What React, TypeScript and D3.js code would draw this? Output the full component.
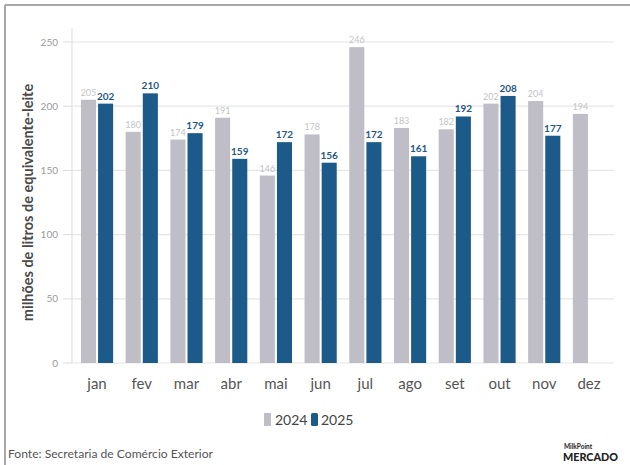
import React, { useEffect, useRef } from "react";
import * as d3 from "d3";

const months = ["jan", "fev", "mar", "abr", "mai", "jun", "jul", "ago", "set", "out", "nov", "dez"];
const series2024 = [205, 180, 174, 191, 146, 178, 246, 183, 182, 202, 204, 194];
const series2025: (number | null)[] = [202, 210, 179, 159, 172, 156, 172, 161, 192, 208, 177, null];
const yTicks = [0, 50, 100, 150, 200, 250];
const years = ["2024", "2025"];

const W = 630;
const H = 465;
const FONT = "Lato, 'Open Sans', sans-serif";
const GRAY = "#bfbec6";
const BLUE = "#1c5a8a";

export default function App() {
  const ref = useRef<SVGSVGElement>(null);

  useEffect(() => {
    const svg = d3.select(ref.current);
    svg.selectAll("*").remove();

    // frame
    svg.append("line").attr("x1", 5).attr("x2", W).attr("y1", 5).attr("y2", 5)
      .attr("stroke", "#a8a8a8").attr("stroke-width", 2);
    svg.append("line").attr("x1", 5).attr("x2", 5).attr("y1", 5).attr("y2", H)
      .attr("stroke", "#a8a8a8").attr("stroke-width", 2);

    const y = d3.scaleLinear().domain([0, 250]).range([363, 42]);
    const x0 = d3.scaleBand().domain(months).range([72, 614]).paddingInner(0.28).paddingOuter(0.2);
    const x1 = d3.scaleBand().domain(years).range([0, x0.bandwidth()]).paddingInner(0.12);

    const g = svg.append("g");

    g.selectAll("line.grid").data(yTicks).join("line")
      .attr("x1", 72).attr("x2", 614)
      .attr("y1", (d) => y(d)).attr("y2", (d) => y(d))
      .attr("stroke", "#e6e6e6").attr("stroke-width", 1.2);
    g.selectAll("line.tick").data(yTicks).join("line")
      .attr("x1", 63).attr("x2", 72)
      .attr("y1", (d) => y(d)).attr("y2", (d) => y(d))
      .attr("stroke", "#dddddd").attr("stroke-width", 1);
    g.append("line").attr("x1", 72).attr("x2", 72).attr("y1", 28).attr("y2", 363)
      .attr("stroke", "#e2e2e2").attr("stroke-width", 1.2);
    g.selectAll("text.ytick").data(yTicks).join("text")
      .attr("x", 58).attr("y", (d) => y(d)).attr("dy", "0.35em")
      .attr("text-anchor", "end").attr("font-family", FONT).attr("font-size", 10)
      .attr("fill", "#9a9a9a").text((d) => d);

    g.append("text")
      .attr("transform", `translate(33,${(y(0) + y(250)) / 2}) rotate(-90)`)
      .attr("text-anchor", "middle").attr("font-family", FONT).attr("font-size", 14.5)
      .attr("font-weight", 700).attr("fill", "#4a4a4a")
      .text("milhões de litros de equivalente-leite");

    g.selectAll("rect.b24").data(months).join("rect")
      .attr("x", (m) => (x0(m) as number) + (x1("2024") as number))
      .attr("width", x1.bandwidth())
      .attr("y", (_, i) => y(series2024[i]))
      .attr("height", (_, i) => y(0) - y(series2024[i]))
      .attr("fill", GRAY);
    g.selectAll("text.l24").data(months).join("text")
      .attr("x", (m) => (x0(m) as number) + (x1("2024") as number) + x1.bandwidth() / 2)
      .attr("y", (_, i) => y(series2024[i]) - 4)
      .attr("text-anchor", "middle").attr("font-family", FONT).attr("font-size", 9)
      .attr("fill", "#c4c4c8").text((_, i) => series2024[i]);

    const d25 = months.map((m, i) => ({ m, v: series2025[i] })).filter((d) => d.v != null) as { m: string; v: number }[];
    g.selectAll("rect.b25").data(d25).join("rect")
      .attr("x", (d) => (x0(d.m) as number) + (x1("2025") as number))
      .attr("width", x1.bandwidth())
      .attr("y", (d) => y(d.v))
      .attr("height", (d) => y(0) - y(d.v))
      .attr("fill", BLUE);
    g.selectAll("text.l25").data(d25).join("text")
      .attr("x", (d) => (x0(d.m) as number) + (x1("2025") as number) + x1.bandwidth() / 2)
      .attr("y", (d) => y(d.v) - 4)
      .attr("text-anchor", "middle").attr("font-family", FONT).attr("font-size", 10)
      .attr("font-weight", 700).attr("fill", "#1f5786").text((d) => d.v);

    g.selectAll("text.xl").data(months).join("text")
      .attr("x", (m) => (x0(m) as number) + x0.bandwidth() / 2)
      .attr("y", 389)
      .attr("text-anchor", "middle").attr("font-family", FONT).attr("font-size", 15)
      .attr("fill", "#555555").text((m) => m);

    const leg = svg.append("g").attr("transform", "translate(264,420)");
    leg.append("rect").attr("x", 0).attr("y", -7).attr("width", 7).attr("height", 13).attr("fill", GRAY);
    leg.append("text").attr("x", 11).attr("y", 0).attr("dy", "0.35em").attr("font-family", FONT)
      .attr("font-size", 14).attr("fill", "#444").text("2024");
    leg.append("rect").attr("x", 47).attr("y", -7).attr("width", 7).attr("height", 13).attr("rx", 1.5).attr("fill", BLUE);
    leg.append("text").attr("x", 57).attr("y", 0).attr("dy", "0.35em").attr("font-family", FONT)
      .attr("font-size", 14).attr("fill", "#444").text("2025");

    svg.append("text").attr("x", 8).attr("y", 458).attr("font-family", FONT)
      .attr("font-size", 11).attr("fill", "#555")
      .attr("textLength", 205).attr("lengthAdjust", "spacingAndGlyphs")
      .text("Fonte: Secretaria de Comércio Exterior");

    svg.append("text").attr("x", 564).attr("y", 449).attr("font-family", FONT)
      .attr("font-size", 6.5).attr("font-weight", 700).attr("fill", "#222").text("MilkPoint");
    svg.append("text").attr("x", 563).attr("y", 461).attr("font-family", FONT)
      .attr("font-size", 12).attr("font-weight", 900).attr("fill", "#222")
      .attr("textLength", 55).attr("lengthAdjust", "spacingAndGlyphs").text("MERCADO");
  }, []);

  return (
    <svg
      ref={ref}
      width={W}
      height={H}
      style={{ position: "absolute", left: 0, top: 0, background: "#fff", display: "block" }}
    />
  );
}
